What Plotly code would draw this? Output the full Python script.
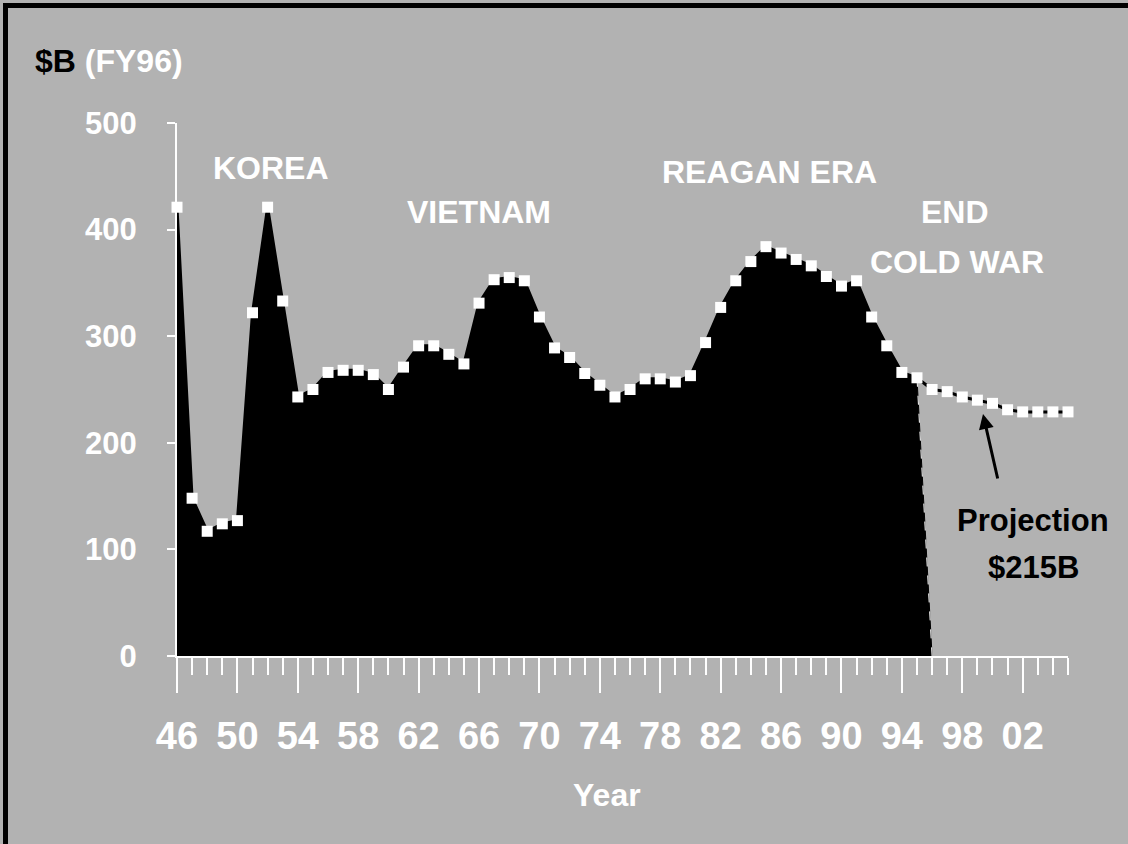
import plotly.graph_objects as go

# ---- data (FY96 $B) ----
years_hist = list(range(1946, 1996))
budget_hist = [421, 148, 117, 124, 127, 322, 421, 333, 243, 250,
               266, 268, 268, 264, 250, 271, 291, 291, 283, 274,
               331, 353, 355, 352, 318, 289, 280, 265, 254, 243,
               250, 260, 260, 257, 263, 294, 327, 352, 370, 384,
               378, 372, 366, 356, 347, 352, 318, 291, 266, 261]
years_proj = list(range(1996, 2006))
budget_proj = [250, 248, 243, 240, 237, 231, 229, 229, 229, 229]
drop_year = 1996  # history area falls back to zero here

tick_years = list(range(1946, 2006, 4))
tick_text = [f"{y % 100:02d}" for y in tick_years]
y_ticks = [0, 100, 200, 300, 400, 500]

# ---- layout geometry ----
W, H = 1128, 844
ML, MR, MT, MB = 177, 60, 123, 188
X0, X1 = 1946, 2005
Y0, Y1 = 0, 500
PW, PH = W - ML - MR, H - MT - MB

def px2x(px):
    return X0 + (px - ML) / PW * (X1 - X0)

def py2y(py):
    return Y0 + (H - MB - py) / PH * (Y1 - Y0)

def ppx(px):
    return (px - ML) / PW

def ppy(py):
    return (H - MB - py) / PH

FONT = "Arial, Liberation Sans, sans-serif"
BG = "#b2b2b2"

all_years = years_hist + years_proj
all_vals = budget_hist + budget_proj

fig = go.Figure()

# black filled history area
fig.add_trace(go.Scatter(
    x=years_hist + [drop_year], y=budget_hist + [0],
    mode="lines", fill="tozeroy", fillcolor="black",
    line=dict(color="black", width=1), hoverinfo="skip", showlegend=False))

# white dashed edge where the area drops
fig.add_trace(go.Scatter(
    x=[years_hist[-1], drop_year], y=[budget_hist[-1], 0],
    mode="lines", line=dict(color="white", width=1, dash="dash"),
    hoverinfo="skip", showlegend=False))

# markers + connecting line
fig.add_trace(go.Scatter(
    x=all_years, y=all_vals, mode="lines+markers",
    line=dict(color="black", width=3),
    marker=dict(symbol="square", size=11, color="white", line=dict(width=0)),
    cliponaxis=False, showlegend=False))

white_bold = dict(family=FONT, color="white", size=32, weight="bold")

annotations = [
    dict(text="KOREA", x=px2x(271), y=py2y(168)),
    dict(text="VIETNAM", x=px2x(479), y=py2y(212)),
    dict(text="REAGAN ERA", x=px2x(769), y=py2y(172)),
    dict(text="END", x=px2x(955), y=py2y(212)),
    dict(text="COLD WAR", x=px2x(957), y=py2y(262)),
]
for a in annotations:
    a.update(xref="x", yref="y", showarrow=False, font=white_bold,
             xanchor="center", yanchor="middle")

annotations += [
    dict(text="Projection", x=px2x(1033), y=py2y(520), xref="x", yref="y",
         showarrow=False, font=dict(family=FONT, color="black", size=31, weight="bold"),
         xanchor="center", yanchor="middle"),
    dict(text="$215B", x=px2x(1033), y=py2y(567), xref="x", yref="y",
         showarrow=False, font=dict(family=FONT, color="black", size=31, weight="bold"),
         xanchor="center", yanchor="middle"),
    dict(text="$B <span style='color:white'>(FY96)</span>", x=ppx(33), y=ppy(61),
         xref="paper", yref="paper", showarrow=False,
         font=dict(family=FONT, color="black", size=32, weight="bold"),
         xanchor="left", yanchor="middle"),
    dict(text="Year", x=ppx(607), y=ppy(795), xref="paper", yref="paper",
         showarrow=False, font=dict(family=FONT, color="white", size=32, weight="bold"),
         xanchor="center", yanchor="middle"),
    dict(text="", x=px2x(983), y=py2y(414), xref="x", yref="y",
         showarrow=True, ax=15, ay=66, arrowcolor="black", arrowwidth=3,
         arrowhead=2, arrowsize=1),
]

shapes = [
    # black frame on top and left edges
    dict(type="rect", xref="paper", yref="paper",
         x0=ppx(3), x1=ppx(W), y0=ppy(8), y1=ppy(3),
         fillcolor="black", line=dict(width=0), layer="below"),
    dict(type="rect", xref="paper", yref="paper",
         x0=ppx(3), x1=ppx(8), y0=ppy(H), y1=ppy(3),
         fillcolor="black", line=dict(width=0), layer="below"),
]

fig.update_layout(
    width=W, height=H,
    margin=dict(l=ML, r=MR, t=MT, b=MB, autoexpand=False),
    paper_bgcolor=BG, plot_bgcolor=BG,
    showlegend=False,
    annotations=annotations,
    shapes=shapes,
    xaxis=dict(
        range=[X0, X1], showgrid=False, zeroline=False,
        showline=True, linecolor="white", linewidth=2,
        tickmode="array", tickvals=tick_years, ticktext=tick_text,
        ticks="outside", ticklen=35, tickwidth=2, tickcolor="white",
        ticklabelstandoff=10,
        tickfont=dict(family=FONT, color="white", size=38, weight="bold"),
        minor=dict(dtick=1, tick0=1946, ticks="outside", ticklen=17,
                   tickwidth=2, tickcolor="white", showgrid=False),
    ),
    yaxis=dict(
        range=[Y0, Y1], showgrid=False, zeroline=False,
        showline=True, linecolor="white", linewidth=2,
        tickvals=y_ticks, ticks="outside", ticklen=8, tickwidth=2,
        tickcolor="white", ticklabelstandoff=24,
        tickfont=dict(family=FONT, color="white", size=31, weight="bold"),
    ),
)

fig.write_html(
    "out.html",
    config={"displayModeBar": False},
    post_script="document.body.style.margin='0';document.body.style.overflow='hidden';",
)
